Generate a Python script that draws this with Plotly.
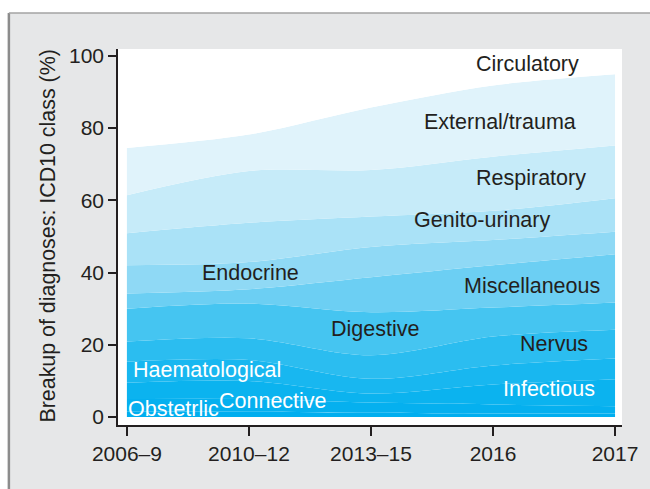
import plotly.graph_objects as go

periods = ["2006–9", "2010–12", "2013–15", "2016", "2017"]

# share of diagnoses (%) per ICD10 class, bottom of stack first
obstetric      = [1.5, 1.5, 1.2, 1.0, 1.0]
connective     = [3.5, 3.5, 2.8, 2.5, 2.0]
infectious     = [4.5, 5.0, 2.5, 5.5, 7.5]
haematological = [5.8, 5.8, 4.1, 5.3, 5.7]
nervus         = [5.6, 6.0, 6.5, 8.0, 8.0]
digestive      = [9.1, 9.6, 11.9, 8.0, 7.5]
miscellaneous  = [4.2, 4.0, 9.7, 11.7, 13.4]
endocrine      = [7.8, 7.5, 8.4, 7.0, 6.2]
genito_urinary = [8.9, 10.9, 8.4, 8.1, 9.3]
respiratory    = [10.5, 14.3, 12.9, 15.0, 14.6]
external       = [13.1, 10.1, 17.3, 19.7, 19.7]
circulatory    = [25.5, 21.8, 14.3, 8.2, 5.1]

series = [
    ("Obstetrlic", obstetric, "#00aeef"),
    ("Connective", connective, "#05b0ef"),
    ("Infectious", infectious, "#0bb3ef"),
    ("Haematological", haematological, "#18b7f0"),
    ("Nervus", nervus, "#2bbdf0"),
    ("Digestive", digestive, "#45c5f1"),
    ("Miscellaneous", miscellaneous, "#6ccff3"),
    ("Endocrine", endocrine, "#8fd9f5"),
    ("Genito-urinary", genito_urinary, "#aae2f7"),
    ("Respiratory", respiratory, "#c6ebf9"),
    ("External/trauma", external, "#e0f3fb"),
    ("Circulatory", circulatory, "#ffffff"),
]

# label placement (x in category index units, y in %) and colour
labels = [
    ("Circulatory", 3.28, 97.8, "#231f20"),
    ("External/trauma", 3.06, 81.7, "#231f20"),
    ("Respiratory", 3.31, 66.2, "#231f20"),
    ("Genito-urinary", 2.91, 54.6, "#231f20"),
    ("Endocrine", 1.01, 39.9, "#231f20"),
    ("Miscellaneous", 3.32, 36.3, "#231f20"),
    ("Digestive", 2.03, 24.4, "#231f20"),
    ("Nervus", 3.50, 20.2, "#231f20"),
    ("Haematological", 0.66, 13.0, "#ffffff"),
    ("Infectious", 3.46, 7.8, "#ffffff"),
    ("Obstetrlic", 0.38, 2.2, "#ffffff"),
    ("Connective", 1.20, 4.4, "#ffffff"),
]

xs = list(range(len(periods)))
FONT = "Liberation Sans, Arial, Helvetica, sans-serif"
INK = "#231f20"

fig = go.Figure()
for name, vals, col in series:
    fig.add_trace(go.Scatter(
        x=xs, y=vals, name=name, stackgroup="one", mode="lines",
        line=dict(width=0, shape="spline", smoothing=0.9, color=col),
        fillcolor=col, hoverinfo="name+y",
    ))

for text, x, y, col in labels:
    fig.add_annotation(x=x, y=y, xref="x", yref="y", text=text, showarrow=False,
                       font=dict(family=FONT, size=21.5, color=col))

fig.add_annotation(x=-0.1398, y=0.5027, xref="paper", yref="paper",
                   text="Breakup of diagnoses: ICD10 class (%)", textangle=-90,
                   showarrow=False, xanchor="center", yanchor="middle",
                   font=dict(family=FONT, size=21.4, color=INK))

# panel frame: white strips at top/left, grey border lines
fig.add_shape(type="rect", xref="paper", yref="paper", x0=-0.3, x1=1.2,
              y0=1.0957, y1=1.25, fillcolor="white", line=dict(width=0), layer="below")
fig.add_shape(type="rect", xref="paper", yref="paper", x0=-0.3, x1=-0.2175,
              y0=-0.3, y1=1.25, fillcolor="white", line=dict(width=0), layer="below")
fig.add_shape(type="line", xref="paper", yref="paper", x0=-0.2165, x1=-0.2165,
              y0=-0.3, y1=1.0957, line=dict(color="#8c8c8c", width=2.5))
fig.add_shape(type="line", xref="paper", yref="paper", x0=-0.2165, x1=1.2,
              y0=1.0957, y1=1.0957, line=dict(color="#a3a3a3", width=1.5))

fig.update_layout(
    width=650, height=489,
    margin=dict(l=118, r=24, t=49, b=64),
    paper_bgcolor="#e6e7e8", plot_bgcolor="white",
    showlegend=False,
    font=dict(family=FONT, size=21, color=INK),
    xaxis=dict(range=[-0.073, 4.057], tickvals=xs, ticktext=periods,
               showgrid=False, zeroline=False, showline=True, linecolor=INK,
               linewidth=1.5, ticks="outside", ticklen=9, tickwidth=1.5,
               tickcolor=INK, tickfont=dict(size=21, color=INK)),
    yaxis=dict(range=[-2.2, 101.9], tickvals=[0, 20, 40, 60, 80, 100],
               showgrid=False, zeroline=False, showline=True, linecolor=INK,
               linewidth=1.5, ticks="outside", ticklen=8, tickwidth=1.5,
               tickcolor=INK, tickfont=dict(size=21, color=INK)),
)

fig.write_html(
    "out.html",
    config={"displayModeBar": False},
    post_script="document.body.style.margin='0';document.body.style.overflow='hidden';",
)
